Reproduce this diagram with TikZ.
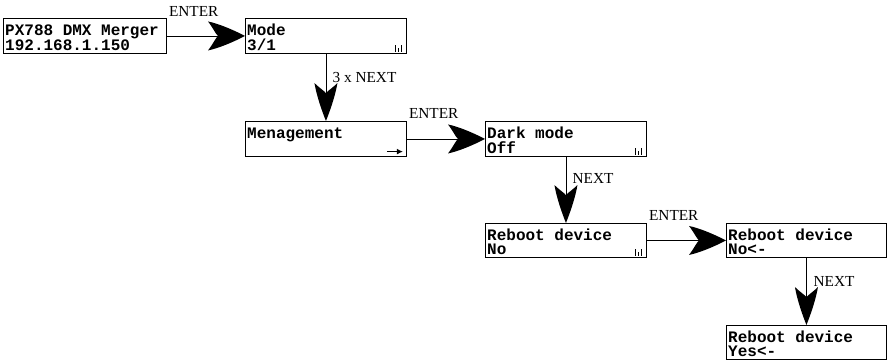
\documentclass[tikz,border=0pt]{standalone}
\usepackage{fontspec}
\setmainfont{Liberation Serif}
\newfontfamily\lcdfont{Liberation Mono}
\usetikzlibrary{arrows.meta}

\pgfdeclarearrow{
  name = BigHead,
  parameters = {\the\pgfarrowlength,\the\pgfarrowwidth},
  setup code = {
    \pgfarrowssettipend{0pt}
    \pgfarrowssetbackend{-\pgfarrowlength}
    \pgfarrowssetlineend{-0.5\pgfarrowlength}
    \pgfarrowssavethe\pgfarrowlength
    \pgfarrowssavethe\pgfarrowwidth
  },
  drawing code = {
    \pgfpathmoveto{\pgfqpoint{0pt}{0pt}}
    \pgfpathcurveto{\pgfpoint{-.3\pgfarrowlength}{.2\pgfarrowwidth}}{\pgfpoint{-.7\pgfarrowlength}{.42\pgfarrowwidth}}{\pgfpoint{-\pgfarrowlength}{.5\pgfarrowwidth}}
    \pgfpathcurveto{\pgfpoint{-.85\pgfarrowlength}{.25\pgfarrowwidth}}{\pgfpoint{-.8\pgfarrowlength}{.08\pgfarrowwidth}}{\pgfpoint{-.73\pgfarrowlength}{0pt}}
    \pgfpathcurveto{\pgfpoint{-.8\pgfarrowlength}{-.08\pgfarrowwidth}}{\pgfpoint{-.85\pgfarrowlength}{-.25\pgfarrowwidth}}{\pgfpoint{-\pgfarrowlength}{-.5\pgfarrowwidth}}
    \pgfpathcurveto{\pgfpoint{-.7\pgfarrowlength}{-.42\pgfarrowwidth}}{\pgfpoint{-.3\pgfarrowlength}{-.2\pgfarrowwidth}}{\pgfqpoint{0pt}{0pt}}
    \pgfpathclose
    \pgfusepathqfill
  },
  defaults = {length = 37pt, width = 29pt}
}

\newcommand\sigbars[1]{%
  \draw[line width=1.1pt] ([xshift=-11.5pt,yshift=2pt]#1.south east) -- ++(0pt,6.5pt);
  \draw[line width=0.8pt] ([xshift=-8.5pt,yshift=2pt]#1.south east) -- ++(0pt,3.8pt);
  \draw[line width=1.1pt] ([xshift=-5.8pt,yshift=2pt]#1.south east) -- ++(0pt,6.5pt);}

\tikzset{
  box/.style={draw, line width=0.9pt, minimum width=161pt, minimum height=35pt, inner sep=0pt, anchor=north west},
  lcd/.style={font=\lcdfont\bfseries\fontsize{16}{18}\selectfont, anchor=base west, inner sep=0pt},
  lbl/.style={font=\fontsize{15.3}{18}\selectfont, anchor=base west, inner sep=0pt},
  hconn/.style={line width=0.9pt, -{BigHead}},
  vconn/.style={line width=0.9pt, -{BigHead[length=38pt,width=23pt]}},
}

\begin{document}
\begin{tikzpicture}[x=1pt,y=-1pt]
\useasboundingbox (0,0) rectangle (887,360);

% boxes
\node[box, minimum width=163pt] (b1) at (3,18) {};
\node[box] (b2) at (245,18) {};
\node[box] (b3) at (245,121) {};
\node[box] (b4) at (485,121) {};
\node[box, minimum height=34pt] (b5) at (485,223) {};
\node[box, minimum width=160pt, minimum height=34pt] (b6) at (726,223) {};
\node[box, minimum width=160pt, minimum height=34pt] (b7) at (726,325) {};

% box texts
\node[lcd] (b1a) at ([xshift=2pt,yshift=-17.5pt]b1.north west) {PX788 DMX Merger};
\node[lcd] (b1b) at ([xshift=2pt,yshift=-32pt]b1.north west) {192.168.1.150};
\node[lcd] (b2a) at ([xshift=2pt,yshift=-17.5pt]b2.north west) {Mode};
\node[lcd] (b2b) at ([xshift=2pt,yshift=-32pt]b2.north west) {3/1};
\node[lcd] (b3a) at ([xshift=2pt,yshift=-17.5pt]b3.north west) {Menagement};
\node[lcd] (b4a) at ([xshift=2pt,yshift=-17.5pt]b4.north west) {Dark mode};
\node[lcd] (b4b) at ([xshift=2pt,yshift=-32pt]b4.north west) {Off};
\node[lcd] (b5a) at ([xshift=2pt,yshift=-17pt]b5.north west) {Reboot device};
\node[lcd] (b5b) at ([xshift=2pt,yshift=-31.5pt]b5.north west) {No};
\node[lcd] (b6a) at ([xshift=2pt,yshift=-17pt]b6.north west) {Reboot device};
\node[lcd] (b6b) at ([xshift=2pt,yshift=-31.5pt]b6.north west) {No<-};
\node[lcd] (b7a) at ([xshift=2pt,yshift=-17pt]b7.north west) {Reboot device};
\node[lcd] (b7b) at ([xshift=2pt,yshift=-31.5pt]b7.north west) {Yes<-};

% icons
\sigbars{b2}
\sigbars{b4}
\sigbars{b5}
\draw[line width=1.4pt, -{Latex[length=6pt,width=6pt]}] ([xshift=-20pt,yshift=5.3pt]b3.south east) -- ([xshift=-4pt,yshift=5.3pt]b3.south east);

% connectors
\draw[hconn] (b1.east) -- (b2.west);
\draw[hconn] (b3.east) -- (b4.west);
\draw[hconn] (b5.east) -- (b6.west);
\draw[vconn] (b2.south) -- (b3.north);
\draw[vconn] (b4.south) -- (b5.north);
\draw[vconn] (b6.south) -- (b7.north);

% labels
\node[lbl] (l1) at ([xshift=2pt,yshift=19pt]b1.east) {ENTER};
\node[lbl] (l2) at ([xshift=2pt,yshift=20pt]b3.east) {ENTER};
\node[lbl] (l3) at ([xshift=2pt,yshift=20pt]b5.east) {ENTER};
\node[lbl] (l4) at ([xshift=6.5pt,yshift=-28.5pt]b2.south) {3 x NEXT};
\node[lbl] (l5) at ([xshift=6.5pt,yshift=-27pt]b4.south) {NEXT};
\node[lbl] (l6) at ([xshift=7pt,yshift=-29pt]b6.south) {NEXT};
\end{tikzpicture}
\end{document}
